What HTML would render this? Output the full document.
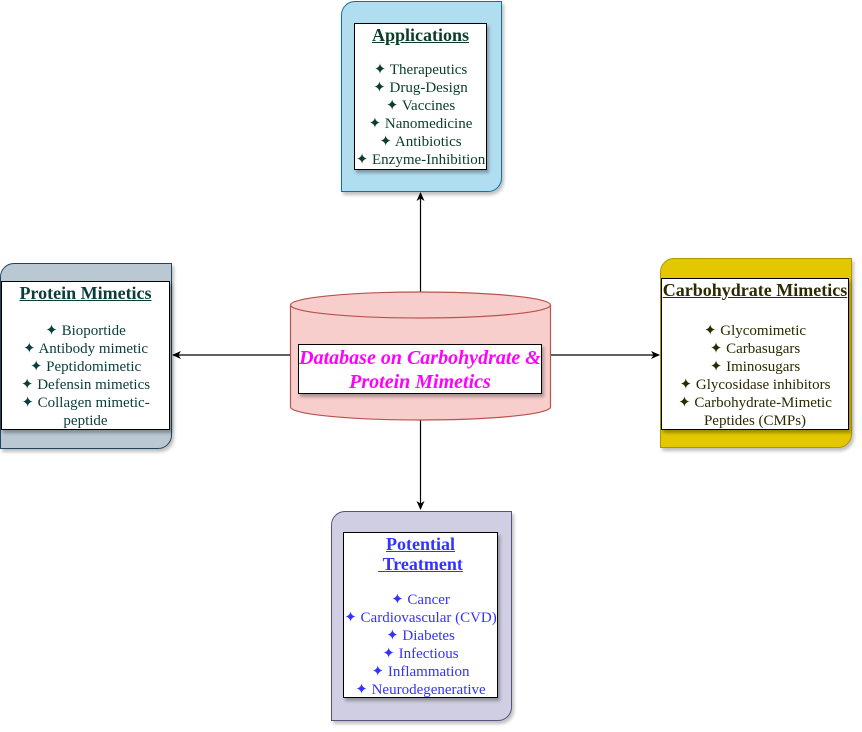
<!DOCTYPE html>
<html><head><meta charset="utf-8">
<style>
html,body{margin:0;padding:0;background:#fff;width:862px;height:732px;overflow:hidden;position:relative;font-family:"Liberation Serif",serif}
.o{position:absolute;box-sizing:border-box;border-width:1.5px;border-style:solid;border-radius:14px 0 14px 0;box-shadow:2px 3px 3px rgba(0,0,0,0.25)}
.i{position:absolute;box-sizing:border-box;background:#fff;border:1.3px solid #000;box-shadow:2px 3px 3px rgba(0,0,0,0.3);text-align:center;font-size:15px;line-height:18px;white-space:nowrap}
.t{font-weight:bold;text-decoration:underline;font-size:18px;line-height:20px}
.d{position:absolute;left:-10px;right:-10px;text-align:center}
</style></head><body>
<svg width="862" height="732" style="position:absolute;left:0;top:0">
<defs><marker id="a" markerWidth="10" markerHeight="10" refX="8" refY="4" orient="auto" markerUnits="userSpaceOnUse"><path d="M0,0 L9,4 L0,8 L2.5,4 z" fill="#000"/></marker></defs>
<line x1="420.5" y1="292" x2="420.5" y2="193" stroke="#000" stroke-width="1.2" marker-end="url(#a)"/>
<line x1="420.5" y1="420" x2="420.5" y2="509" stroke="#000" stroke-width="1.2" marker-end="url(#a)"/>
<line x1="290" y1="355" x2="173" y2="355" stroke="#000" stroke-width="1.2" marker-end="url(#a)"/>
<line x1="551" y1="355" x2="659" y2="355" stroke="#000" stroke-width="1.2" marker-end="url(#a)"/>
<path d="M290.5,305 L290.5,407 A130,13 0 0 0 550.5,407 L550.5,305" fill="#f8cecc" stroke="#b85450" stroke-width="1.2"/>
<ellipse cx="420.5" cy="305" rx="130" ry="13" fill="#f8cecc" stroke="#b85450" stroke-width="1.2"/>
</svg>

<div class="o" style="left:341px;top:1px;width:161px;height:191px;background:#b1ddf0;border-color:#10739e"></div>
<div class="i" style="left:354px;top:23px;width:133px;height:147px;color:#0b3d2a">
<div class="d t" style="top:1px;color:#0b3d2a">Applications</div>
<div class="d" style="top:37px">✦ Therapeutics<br>✦ Drug-Design<br>✦ Vaccines<br>✦ Nanomedicine<br>✦ Antibiotics<br>✦ Enzyme-Inhibition</div>
</div>

<div class="o" style="left:0px;top:263px;width:172px;height:186px;background:#bac8d3;border-color:#23445d"></div>
<div class="i" style="left:1px;top:281px;width:169px;height:149px;color:#0b3d3a">
<div class="d t" style="top:1px">Protein Mimetics</div>
<div class="d" style="top:40px">✦ Bioportide<br>✦ Antibody mimetic<br>✦ Peptidomimetic<br>✦ Defensin mimetics<br>✦ Collagen mimetic-<br>peptide</div>
</div>

<div class="o" style="left:660px;top:258px;width:192px;height:190px;background:#e3c800;border-color:#b09500"></div>
<div class="i" style="left:661px;top:278px;width:188px;height:152px;color:#2b2a00">
<div class="d t" style="top:1px">Carbohydrate Mimetics</div>
<div class="d" style="top:43px">✦ Glycomimetic<br>✦ Carbasugars<br>✦ Iminosugars<br>✦ Glycosidase inhibitors<br>✦ Carbohydrate-Mimetic<br>Peptides (CMPs)</div>
</div>

<div class="o" style="left:331px;top:511px;width:181px;height:210px;background:#d0cee2;border-color:#56517e"></div>
<div class="i" style="left:343px;top:532px;width:155px;height:166px;color:#3333ff">
<div class="d t" style="top:1px">Potential<br>&nbsp;Treatment</div>
<div class="d" style="top:58px">✦ Cancer<br>✦ Cardiovascular (CVD)<br>✦ Diabetes<br>✦ Infectious<br>✦ Inflammation<br>✦ Neurodegenerative</div>
</div>

<div class="i" style="left:298px;top:344px;width:244px;height:50px;color:#ff00ff;font-weight:bold;font-style:italic;font-size:20px;line-height:24px;padding-top:1px">Database on Carbohydrate &amp;<br>Protein Mimetics</div>
</body></html>
